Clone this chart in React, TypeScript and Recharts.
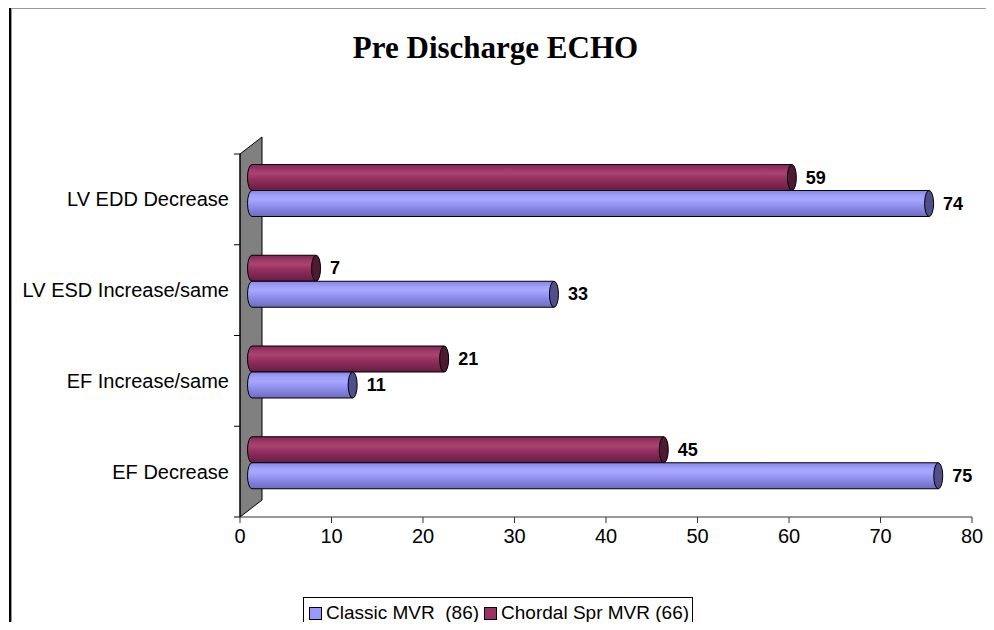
import React from "react"
import { BarChart, Bar, XAxis, YAxis, LabelList } from "recharts"

const categories = ["LV EDD Decrease", "LV ESD Increase/same", "EF Increase/same", "EF Decrease"]
const classicMvr = [74, 33, 11, 75]
const chordalSprMvr = [59, 7, 21, 45]
const xTicks = [0, 10, 20, 30, 40, 50, 60, 70, 80]

const SERIES = [
  { key: "chordal", name: "Chordal Spr MVR (66)", color: "#993366", cap: "#4d1a33", grad: "gradChordal" },
  { key: "classic", name: "Classic MVR  (86)", color: "#9999FF", cap: "#4f4f8c", grad: "gradClassic" },
]

const data = categories.map((name, i) => ({
  name,
  classic: classicMvr[i],
  chordal: chordalSprMvr[i],
}))

// plot frame
const WIDTH = 994
const HEIGHT = 630
const AXIS_X = 240
const PLOT_TOP = 154
const PLOT_BOTTOM = 517
const PLOT_RIGHT = 972
const Y_AXIS_W = 230
const X_AXIS_H = 40
// 3d depth of the side wall, bars sit half way in
const DEPTH_X = 22
const DEPTH_Y = 17
const BAR_DX = 12
const BAR_DY = -8.5
const BAND = (PLOT_BOTTOM - PLOT_TOP) / categories.length

const FONT = '"Liberation Sans", Arial, sans-serif'

function Cylinder(props: any) {
  const { x, y, width, height, fill, capFill } = props
  if (!width || width <= 0) return null
  const X = x + BAR_DX
  const Y = y + BAR_DY
  const rx = 4.5
  const ry = height / 2
  const body = `M${X},${Y} L${X + width},${Y} L${X + width},${Y + height} L${X},${Y + height} A${rx},${ry} 0 0 1 ${X},${Y} Z`
  return (
    <g>
      <path d={body} fill={fill} stroke="#000" strokeWidth={1} />
      <ellipse cx={X + width} cy={Y + ry} rx={rx} ry={ry} fill={capFill} stroke="#000" strokeWidth={1} />
    </g>
  )
}

function ValueLabel(props: any) {
  const { x, y, width, height, value } = props
  return (
    <text
      x={x + width + BAR_DX + 14}
      y={y + height / 2 + BAR_DY}
      dominantBaseline="central"
      fontFamily={FONT}
      fontSize={18}
      fontWeight="bold"
      fill="#000"
    >
      {value}
    </text>
  )
}

function CategoryTick(props: any) {
  const { x, y, payload, index } = props
  const top = y - BAND / 2
  return (
    <g>
      <line x1={AXIS_X - 6} x2={AXIS_X} y1={top} y2={top} stroke="#000" />
      {index === categories.length - 1 && (
        <line x1={AXIS_X - 6} x2={AXIS_X} y1={top + BAND} y2={top + BAND} stroke="#000" />
      )}
      <text x={x} y={y} textAnchor="end" dominantBaseline="central" fontFamily={FONT} fontSize={20} fill="#000">
        {payload.value}
      </text>
    </g>
  )
}

function SideWall() {
  const pts = [
    [AXIS_X, PLOT_TOP],
    [AXIS_X + DEPTH_X, PLOT_TOP - DEPTH_Y],
    [AXIS_X + DEPTH_X, PLOT_BOTTOM - DEPTH_Y],
    [AXIS_X, PLOT_BOTTOM],
  ]
  return <polygon points={pts.map((p) => p.join(",")).join(" ")} fill="#808080" stroke="#000" strokeWidth={1} />
}

function LegendBox() {
  const items = [SERIES[1], SERIES[0]]
  return (
    <div
      style={{
        position: "absolute",
        left: 303,
        top: 597,
        width: 390,
        height: 40,
        border: "1px solid #000",
        background: "#fff",
        display: "flex",
        alignItems: "flex-start",
        paddingTop: 4,
        paddingLeft: 5,
        boxSizing: "border-box",
        fontFamily: FONT,
        fontSize: 19,
      }}
    >
      {items.map((s) => (
        <div key={s.key} style={{ display: "flex", alignItems: "center", marginRight: 5 }}>
          <span
            style={{
              display: "inline-block",
              width: 11,
              height: 11,
              background: s.color,
              border: "1px solid #000",
              marginRight: 4,
            }}
          />
          <span style={{ whiteSpace: "pre" }}>{s.name}</span>
        </div>
      ))}
    </div>
  )
}

export default function App() {
  return (
    <div style={{ position: "relative", width: WIDTH, height: HEIGHT, margin: -8, overflow: "hidden", background: "#fff" }}>
      <div
        style={{
          position: "absolute",
          left: 9,
          top: 6,
          width: 1200,
          height: 1000,
          borderTop: "2px solid #000",
          borderLeft: "2px solid #000",
          boxShadow: "inset 1px 1px 0 #999",
        }}
      />
      <div
        style={{
          position: "absolute",
          left: 0,
          top: 30,
          width: 991,
          textAlign: "center",
          fontFamily: '"Liberation Serif", "Times New Roman", serif',
          fontWeight: "bold",
          fontSize: 31,
        }}
      >
        Pre Discharge ECHO
      </div>
      <div style={{ position: "absolute", left: 0, top: 0 }}>
        <BarChart
          width={WIDTH}
          height={HEIGHT}
          data={data}
          layout="vertical"
          barSize={26}
          barGap={0}
          margin={{
            top: PLOT_TOP,
            right: WIDTH - PLOT_RIGHT,
            bottom: HEIGHT - PLOT_BOTTOM - X_AXIS_H,
            left: AXIS_X - Y_AXIS_W,
          }}
        >
          <defs>
            <linearGradient id="gradClassic" x1="0" y1="0" x2="0" y2="1">
              <stop offset="0%" stopColor="#8585e6" />
              <stop offset="22%" stopColor="#a2a2ff" />
              <stop offset="35%" stopColor="#a8a8ff" />
              <stop offset="55%" stopColor="#9494f2" />
              <stop offset="100%" stopColor="#6b6bbd" />
            </linearGradient>
            <linearGradient id="gradChordal" x1="0" y1="0" x2="0" y2="1">
              <stop offset="0%" stopColor="#7d2650" />
              <stop offset="22%" stopColor="#a33a6b" />
              <stop offset="35%" stopColor="#a9436f" />
              <stop offset="55%" stopColor="#942f5f" />
              <stop offset="100%" stopColor="#661d42" />
            </linearGradient>
          </defs>
          <SideWall />
          <XAxis
            type="number"
            domain={[0, 80]}
            ticks={xTicks}
            interval={0}
            height={X_AXIS_H}
            tickSize={6}
            tickMargin={6}
            axisLine={{ stroke: "#333" }}
            tickLine={{ stroke: "#333" }}
            tick={{ fill: "#000", fontFamily: FONT, fontSize: 20 }}
          />
          <YAxis
            type="category"
            dataKey="name"
            width={Y_AXIS_W}
            tickSize={6}
            tickMargin={5}
            tickLine={false}
            axisLine={{ stroke: "#000" }}
            tick={<CategoryTick />}
          />
          {SERIES.map((s) => (
            <Bar
              key={s.key}
              dataKey={s.key}
              name={s.name}
              fill={s.color}
              isAnimationActive={false}
              shape={(p: any) => <Cylinder {...p} fill={`url(#${s.grad})`} capFill={s.cap} />}
            >
              <LabelList dataKey={s.key} content={<ValueLabel />} />
            </Bar>
          ))}
        </BarChart>
      </div>
      <LegendBox />
    </div>
  )
}
